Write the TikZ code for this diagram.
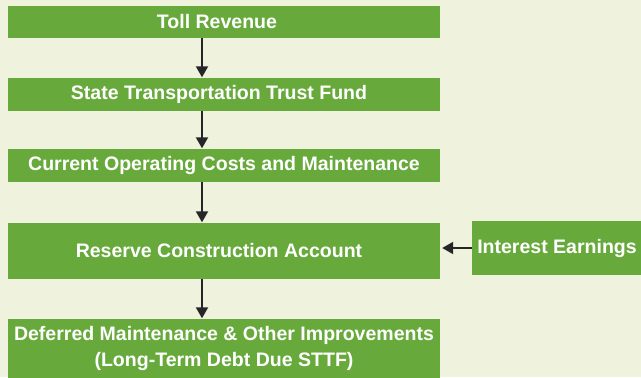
\documentclass[tikz,border=0pt]{standalone}
\usepackage{fontspec}
\setmainfont{Liberation Sans}
\usetikzlibrary{arrows.meta}

\definecolor{boxgreen}{HTML}{67AA3B}
\definecolor{paper}{HTML}{EFF3DE}

\begin{document}
\begin{tikzpicture}[x=1bp,y=-1bp]
\tikzset{
	box/.style={fill=boxgreen, text=white, font=\fontsize{19.6}{25.5}\selectfont\bfseries, align=center, inner sep=0pt, minimum width=432bp},
	flow/.style={draw=black!85, line width=2bp, -{Triangle[length=11bp,width=12bp]}}
}

% 背景
\fill[paper] (0,0) rectangle (641,377);
\useasboundingbox (0,0) rectangle (641,377);

% 左列
\node[box, minimum height=32bp] (toll) at(224,22) {\hspace*{-14bp}Toll Revenue};
\node[box, minimum height=33bp] (sttf) at(224,94) {\hspace*{-10bp}State Transportation Trust Fund};
\node[box, minimum height=33bp] (costs) at(224,165) {Current Operating Costs and Maintenance};
\node[box, minimum height=56bp] (reserve) at(224,250.5) {\hspace*{-10bp}Reserve Construction Account};
\node[box, minimum height=60bp] (deferred) at(224,348.5) {Deferred Maintenance \& Other Improvements\\(Long-Term Debt Due STTF)};

% 右侧
\node[box, minimum width=170bp, minimum height=54bp] (interest) at(557,248) {Interest Earnings};

% 连线
\draw[flow] ([xshift=-22bp]toll.south) -- ([xshift=-22bp]sttf.north);
\draw[flow] ([xshift=-22bp]sttf.south) -- ([xshift=-22bp]costs.north);
\draw[flow] ([xshift=-22bp]costs.south) -- ([xshift=-22bp]reserve.north);
\draw[flow] ([xshift=-22bp]reserve.south) -- ([xshift=-22bp]deferred.north);
\draw[flow, shorten >=2bp] (interest.west) -- (reserve.east |- interest.west);

\end{tikzpicture}
\end{document}
